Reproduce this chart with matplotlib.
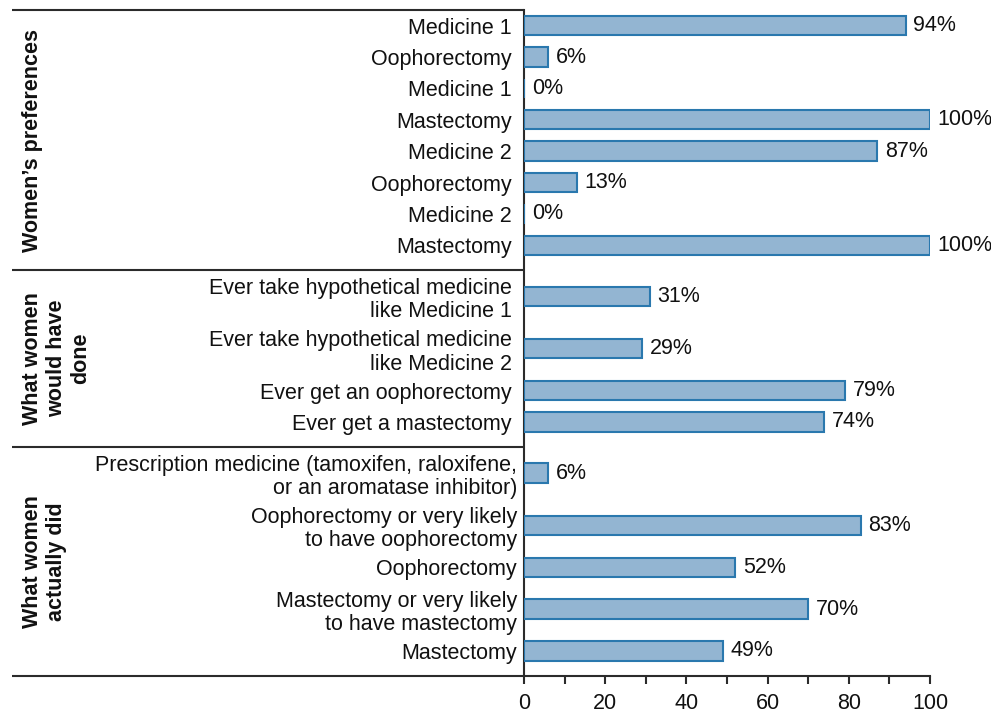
import matplotlib
matplotlib.use("Agg")
from matplotlib import pyplot as plt
from matplotlib import transforms

plt.rcParams['font.family'] = ['Liberation Sans', 'DejaVu Sans']

# ----- data -----
groupNames = [
    "Women\u2019s preferences",
    "What women\nwould have\ndone",
    "What women\nactually did",
]
groupLabels = [
    ["Medicine 1", "Oophorectomy", "Medicine 1", "Mastectomy",
     "Medicine 2", "Oophorectomy", "Medicine 2", "Mastectomy"],
    ["Ever take hypothetical medicine\nlike Medicine 1",
     "Ever take hypothetical medicine\nlike Medicine 2",
     "Ever get an oophorectomy",
     "Ever get a mastectomy"],
    ["Prescription medicine (tamoxifen, raloxifene,\nor an aromatase inhibitor)",
     "Oophorectomy or very likely\nto have oophorectomy",
     "Oophorectomy",
     "Mastectomy or very likely\nto have mastectomy",
     "Mastectomy"],
]
groupValues = [
    [94, 6, 0, 100, 87, 13, 0, 100],
    [31, 29, 79, 74],
    [6, 83, 52, 70, 49],
]

# ----- layout of rows (slot heights depend on number of text lines) -----
slot1 = 30.0    # one-line label
slot2 = 50.0    # two-line label
padTop = 0.0
padBottom = 9.0
labelPads = [9, 9, 5]

positions = []
separators = []
centers = []
y = 0.0
for labels in groupLabels:
    gStart = y
    y += padTop
    pos = []
    for lab in labels:
        h = slot2 if "\n" in lab else slot1
        pos.append(y + h / 2.0)
        y += h
    y += padBottom
    positions.append(pos)
    separators.append(y)
    centers.append((gStart + y) / 2.0)
total = y

barFill = '#93b5d2'
barEdge = '#2a78ae'
lineColor = '#2b2b2b'
fontSize = 15.5

W, H = 991, 713
fig = plt.figure(figsize=(W / 100.0, H / 100.0), dpi=100)
ax = fig.add_axes([524.0 / W, 1 - 676.0 / H, (930.0 - 524.0) / W, (676.0 - 10.0) / H])

barHeight = 18.5
allPos, allLab, allPad = [], [], []
for g in range(len(groupLabels)):
    ax.barh(positions[g], groupValues[g], height=barHeight, color=barFill,
            edgecolor=barEdge, linewidth=1.5, zorder=3)
    for p, v in zip(positions[g], groupValues[g]):
        ax.annotate("%d%%" % v, xy=(v, p), xytext=(5.5, 0), textcoords='offset points',
                    ha='left', va='center', fontsize=fontSize, color='#111111')
    allPos += positions[g]
    allLab += groupLabels[g]
    allPad += [labelPads[g]] * len(groupLabels[g])

ax.set_ylim(total, 0)
ax.set_xlim(0, 100)

ax.set_yticks(allPos)
ax.set_yticklabels(allLab, fontsize=fontSize, linespacing=1.15, color='#111111')
ax.tick_params(axis='y', length=0)
for tick, pd in zip(ax.yaxis.get_major_ticks(), allPad):
    tick.set_pad(pd)

ax.set_xticks(range(0, 101, 20))
ax.set_xticks(range(0, 101, 10), minor=True)
ax.tick_params(axis='x', which='both', direction='out', length=6, width=1.5,
               color=lineColor, labelsize=fontSize, pad=6, labelcolor='#111111')

for s in ['top', 'right']:
    ax.spines[s].set_visible(False)
for s in ['left', 'bottom']:
    ax.spines[s].set_linewidth(1.5)
    ax.spines[s].set_color(lineColor)

# group separator lines reaching out to the left edge
xLeft = (12.0 - 524.0) / (930.0 - 524.0)
trans = transforms.blended_transform_factory(ax.transAxes, ax.transData)
for yy in [0.0] + separators:
    ax.plot([xLeft, 0], [yy, yy], transform=trans, color=lineColor,
            linewidth=1.5, clip_on=False, solid_capstyle='butt')

# rotated group titles
transG = transforms.blended_transform_factory(fig.transFigure, ax.transData)
for name, c in zip(groupNames, centers):
    ax.text(22.0 / W, c, name, transform=transG, rotation=90, ha='left', va='center',
            multialignment='center', fontsize=fontSize, fontweight='bold',
            linespacing=1.2, color='#111111')

plt.savefig('out.png', dpi=100)
